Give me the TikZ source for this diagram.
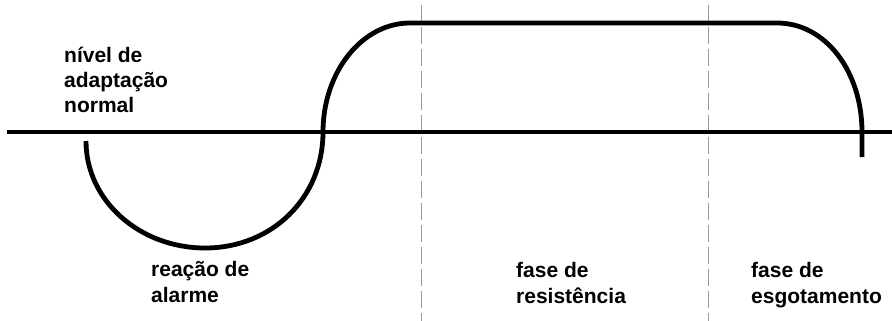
\documentclass[tikz,border=0pt]{standalone}
\usepackage{fontspec}
\setmainfont{Liberation Sans}
\begin{document}
\begin{tikzpicture}[x=1pt,y=-1pt,
  curve/.style={line width=4.8pt, line cap=butt, line join=round},
  divider/.style={line width=0.8pt, gray!80, dash pattern=on 17pt off 5pt},
  lbl/.style={anchor=base west, inner sep=0pt, align=left,
    font=\bfseries\fontsize{21}{25.5}\selectfont}]
\useasboundingbox (0,0) rectangle (892,321);
% dividers
\coordinate (d1t) at (421,5); \coordinate (d1b) at (421,321);
\coordinate (d2t) at (708,5); \coordinate (d2b) at (708,321);
\draw[divider] (d1t) -- (d1b);
\draw[divider] (d2t) -- (d2b);
% baseline
\coordinate (bl) at (7,132); \coordinate (br) at (892,132);
\draw[curve] (bl) -- (br);
% curve
\coordinate (s) at (86,141);
\coordinate (bot) at (205,248);
\coordinate (cross) at (323,132);
\coordinate (top1) at (410,23);
\coordinate (top2) at (777,23);
\coordinate (down) at (862,132);
\coordinate (e) at (862,157);
\draw[curve] (s) .. controls (86,201) and (140,248) .. (bot)
  .. controls (272,248) and (323,198) .. (cross)
  .. controls (323,72) and (362,23) .. (top1)
  -- (top2)
  .. controls (826,23) and (862,72) .. (down) -- (e);
% labels (anchored at the baseline of the last line)
\node[lbl] (n1) at (64,113) {nível de\\adaptação\\normal};
\node[lbl] (n2) at (151,302) {reação de\\alarme};
\node[lbl] (n3) at (516,303) {fase de\\resistência};
\node[lbl] (n4) at (751,303) {fase de\\esgotamento};
\end{tikzpicture}
\end{document}
